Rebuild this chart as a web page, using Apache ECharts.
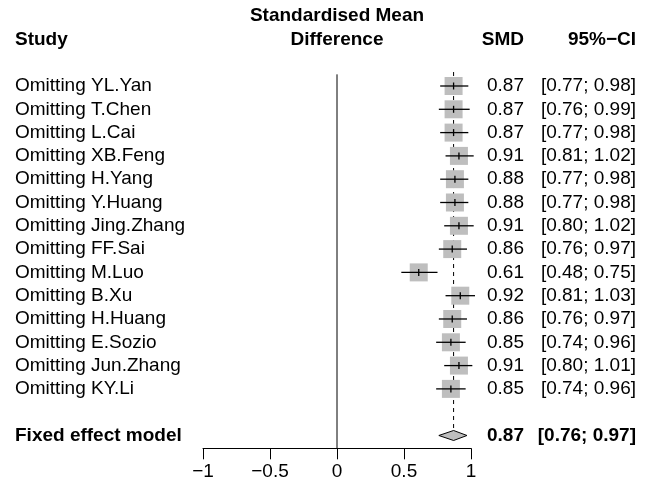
<!DOCTYPE html>
<html>
<head>
<meta charset="utf-8">
<script src="https://cdn.jsdelivr.net/npm/echarts@6/dist/echarts.min.js"></script>
<style>html,body{margin:0;padding:0;background:#fff}#c{width:656px;height:495px}</style>
</head>
<body>
<div id="c"></div>
<script>
var studies = ['Omitting YL.Yan','Omitting T.Chen','Omitting L.Cai','Omitting XB.Feng','Omitting H.Yang','Omitting Y.Huang','Omitting Jing.Zhang','Omitting FF.Sai','Omitting M.Luo','Omitting B.Xu','Omitting H.Huang','Omitting E.Sozio','Omitting Jun.Zhang','Omitting KY.Li'];
var smd   = [0.87,0.87,0.87,0.91,0.88,0.88,0.91,0.86,0.61,0.92,0.86,0.85,0.91,0.85];
var lower = [0.77,0.76,0.77,0.81,0.77,0.77,0.80,0.76,0.48,0.81,0.76,0.74,0.80,0.74];
var upper = [0.98,0.99,0.98,1.02,0.98,0.98,1.02,0.97,0.75,1.03,0.97,0.96,1.01,0.96];
var fixedLabel = 'Fixed effect model';
var fixedSmd = 0.87, fixedLower = 0.76, fixedUpper = 0.97;
var xTicks = [-1, -0.5, 0, 0.5, 1];
var headerTitle = ['Standardised Mean', 'Difference'];
var headerStudy = 'Study', headerSMD = 'SMD', headerCI = '95%\u2212CI';

var FONT = '"Liberation Sans", Arial, Helvetica, sans-serif';
var FS = 19;
var fixedRow = studies.length + 1;
function fmt(v){ return v.toFixed(2); }
function ci(l,u){ return '[' + fmt(l) + '; ' + fmt(u) + ']'; }

var rows = studies.map(function(s,i){ return [i, smd[i], lower[i], upper[i]]; });

var chart = echarts.init(document.getElementById('c'), null, {renderer:'canvas'});
var X_STUDY = 15, X_SMD = 524, X_CI = 636;

function txt(x, y, t, align, bold){
  return {type:'text', style:{x:x, y:y, text:t, textAlign:align, textVerticalAlign:'middle', verticalAlign:'middle', align:align,
    font:(bold?'bold ':'') + FS + 'px ' + FONT, fill:'#000'}};
}

chart.setOption({
  animation:false,
  backgroundColor:'#fff',
  grid:{left:203, right:185, top:11.44, bottom:46.7},
  xAxis:{type:'value', min:xTicks[0], max:xTicks[xTicks.length-1], interval:0.5, position:'bottom',
    axisLine:{show:true, onZero:false, lineStyle:{color:'#000', width:1}},
    axisTick:{show:true, length:11, lineStyle:{color:'#000', width:1}},
    axisLabel:{color:'#000', fontSize:FS, fontFamily:FONT, margin:14,
      formatter:function(v){ return String(v).replace('-', '\u2212'); }},
    splitLine:{show:false}},
  yAxis:{type:'value', inverse:true, min:-3.2, max:15.55, show:false},
  series:[
    {type:'custom', silent:true, clip:false, z:1, data:[[fixedSmd, 0]],
      renderItem:function(params, api){
        var top = api.coord([0, -0.5])[1];
        var axisY = api.coord([0, 15.55])[1];
        var x0 = api.coord([0, 0])[0];
        var xf = api.coord([fixedSmd, 0])[0];
        var dTop = api.coord([0, -0.6])[1];
        var dBot = api.coord([0, fixedRow])[1] - 5;
        return {type:'group', children:[
          {type:'line', shape:{x1:x0, y1:top, x2:x0, y2:axisY}, style:{stroke:'#000', lineWidth:1}},
          {type:'line', shape:{x1:xf, y1:dTop, x2:xf, y2:dBot}, style:{stroke:'#000', lineWidth:1, lineDash:[4,4]}}
        ]};
      }},
    {type:'custom', silent:true, clip:false, z:2, data:rows,
      renderItem:function(params, api){
        var i = api.value(0);
        var c = api.coord([api.value(1), i]);
        var xl = api.coord([api.value(2), i])[0];
        var xu = api.coord([api.value(3), i])[0];
        var s = 18;
        return {type:'group', children:[
          {type:'rect', shape:{x:c[0]-s/2, y:c[1]-s/2, width:s, height:s}, style:{fill:'#bebebe'}},
          {type:'line', shape:{x1:xl, y1:c[1], x2:xu, y2:c[1]}, style:{stroke:'#000', lineWidth:1.3}},
          {type:'line', shape:{x1:c[0], y1:c[1]-3.5, x2:c[0], y2:c[1]+3.5}, style:{stroke:'#000', lineWidth:1.3}},
          txt(X_STUDY, c[1], studies[i], 'left', false),
          txt(X_SMD, c[1], fmt(smd[i]), 'right', false),
          txt(X_CI, c[1], ci(lower[i], upper[i]), 'right', false)
        ]};
      }},
    {type:'custom', silent:true, clip:false, z:3, data:[[fixedRow, fixedSmd, fixedLower, fixedUpper]],
      renderItem:function(params, api){
        var r = api.value(0);
        var c = api.coord([api.value(1), r]);
        var xl = api.coord([api.value(2), r])[0];
        var xu = api.coord([api.value(3), r])[0];
        var h = 5;
        var y1 = api.coord([0, -3])[1], y2 = api.coord([0, -2])[1];
        var xc = api.coord([0, 0])[0];
        return {type:'group', children:[
          {type:'polygon', shape:{points:[[xl,c[1]],[c[0],c[1]-h],[xu,c[1]],[c[0],c[1]+h]]}, style:{fill:'#bebebe', stroke:'#000', lineWidth:1}},
          txt(X_STUDY, c[1], fixedLabel, 'left', true),
          txt(X_SMD, c[1], fmt(fixedSmd), 'right', true),
          txt(X_CI, c[1], ci(fixedLower, fixedUpper), 'right', true),
          txt(xc, y1, headerTitle[0], 'center', true),
          txt(xc, y2, headerTitle[1], 'center', true),
          txt(X_STUDY, y2, headerStudy, 'left', true),
          txt(X_SMD, y2, headerSMD, 'right', true),
          txt(X_CI, y2, headerCI, 'right', true)
        ]};
      }}
  ]
});
</script>
</body>
</html>
